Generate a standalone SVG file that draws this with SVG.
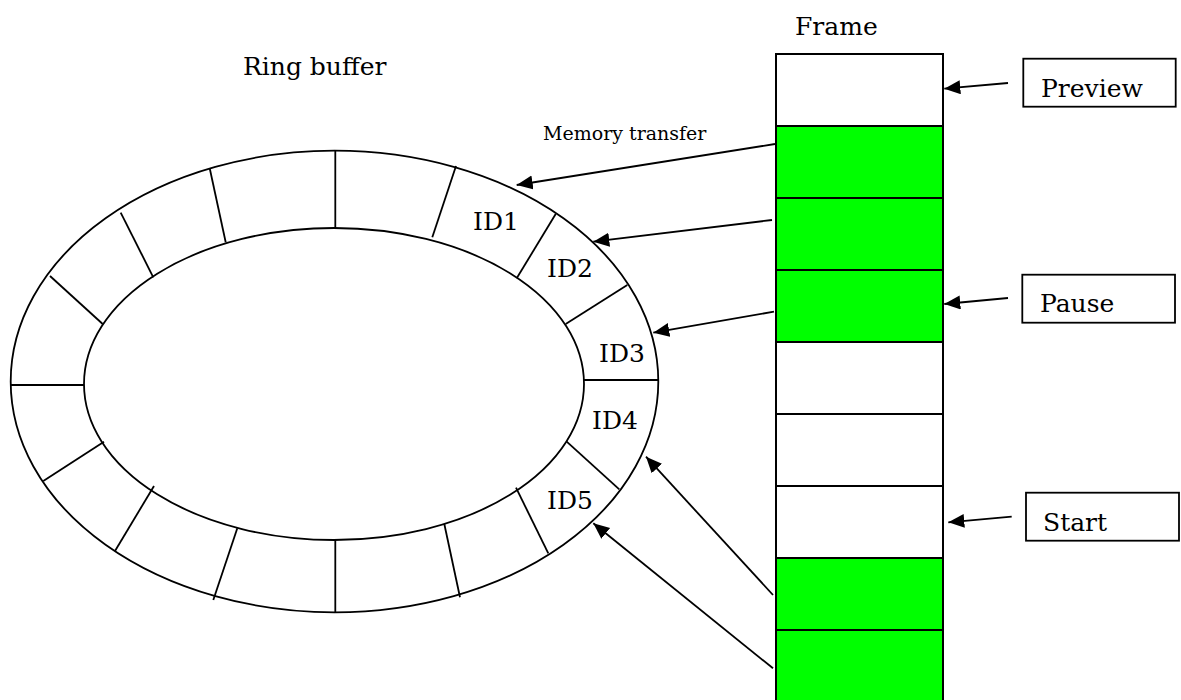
<svg xmlns="http://www.w3.org/2000/svg" width="1181" height="700" viewBox="0 0 1181 700">
  <style>
    .t { font-family: "DejaVu Serif", "Liberation Serif", serif; fill: #000; }
    .big { font-size: 25px; }
    .small { font-size: 19px; }
    .ring { fill: none; stroke: #000; stroke-width: 1.8; }
    .div { stroke: #000; stroke-width: 1.8; }
    .cell { stroke: #000; stroke-width: 2; }
    .g { fill: #00ff00; }
    .w { fill: #ffffff; }
    .box { fill: #fff; stroke: #000; stroke-width: 1.8; }
    .conn { stroke: #000; stroke-width: 1.8; fill: none; marker-end: url(#ah); }
  </style>
  <defs>
    <marker id="ah" markerUnits="userSpaceOnUse" markerWidth="18" markerHeight="16" refX="16" refY="7" orient="auto">
      <path d="M0,0 L16,7 L0,14 Z" fill="#000"/>
    </marker>
  </defs>
  <rect width="1181" height="700" fill="#fff"/>

  <g id="title-ring">
    <text class="t big" x="243" y="75">Ring buffer</text>
  </g>
  <g id="title-frame">
    <text class="t big" x="795" y="35">Frame</text>
  </g>

  <g id="ring-buffer">
    <ellipse class="ring" cx="334.5" cy="381.5" rx="323.8" ry="230.8"/>
    <ellipse class="ring" cx="334" cy="384" rx="250" ry="156"/>
    <line class="div" x1="335.3" y1="151" x2="335.3" y2="228.3"/>
    <line class="div" x1="209.7" y1="168.3" x2="225.7" y2="242.3"/>
    <line class="div" x1="120.7" y1="212.7" x2="153.3" y2="277.3"/>
    <line class="div" x1="50" y1="276" x2="102.7" y2="324"/>
    <line class="div" x1="11" y1="385" x2="84" y2="385"/>
    <line class="div" x1="456" y1="166" x2="432.3" y2="237.3"/>
    <line class="div" x1="555.7" y1="214" x2="516.7" y2="278.3"/>
    <line class="div" x1="627.3" y1="285" x2="565.7" y2="324"/>
    <line class="div" x1="584" y1="380" x2="658.3" y2="380"/>
    <line class="div" x1="43.3" y1="481" x2="104" y2="441.7"/>
    <line class="div" x1="115" y1="551" x2="154" y2="486"/>
    <line class="div" x1="213.3" y1="600" x2="237.3" y2="528.3"/>
    <line class="div" x1="335.3" y1="612.5" x2="335.3" y2="540"/>
    <line class="div" x1="460" y1="597.3" x2="444.3" y2="524"/>
    <line class="div" x1="548.3" y1="553.3" x2="516" y2="487.7"/>
    <line class="div" x1="619.3" y1="489.3" x2="566.7" y2="441.7"/>
    <text class="t big" x="473" y="230">ID1</text>
    <text class="t big" x="547" y="277">ID2</text>
    <text class="t big" x="599" y="362">ID3</text>
    <text class="t big" x="592" y="429">ID4</text>
    <text class="t big" x="547" y="509">ID5</text>
  </g>

  <g id="frame">
    <rect class="cell w" x="776" y="54" width="167" height="72"/>
    <rect class="cell g" x="776" y="126" width="167" height="72"/>
    <rect class="cell g" x="776" y="198" width="167" height="72"/>
    <rect class="cell g" x="776" y="270" width="167" height="72"/>
    <rect class="cell w" x="776" y="342" width="167" height="72"/>
    <rect class="cell w" x="776" y="414" width="167" height="72"/>
    <rect class="cell w" x="776" y="486" width="167" height="72"/>
    <rect class="cell g" x="776" y="558" width="167" height="72"/>
    <rect class="cell g" x="776" y="630" width="167" height="72"/>
  </g>

  <g id="preview">
    <rect class="box" x="1023.3" y="58.7" width="152.4" height="48"/>
    <text class="t big" x="1041" y="97">Preview</text>
  </g>
  <g id="pause">
    <rect class="box" x="1022.3" y="274.7" width="152.7" height="48"/>
    <text class="t big" x="1040" y="312">Pause</text>
  </g>
  <g id="start">
    <rect class="box" x="1026" y="492.7" width="153" height="48"/>
    <text class="t big" x="1043" y="531">Start</text>
  </g>

  <g id="memory-transfer-label">
    <text class="t small" x="543" y="140">Memory transfer</text>
  </g>

  <g id="connectors">
    <line class="conn" x1="775" y1="144" x2="516.7" y2="185"/>
    <line class="conn" x1="772" y1="220" x2="593.3" y2="241.7"/>
    <line class="conn" x1="774" y1="311.7" x2="653.3" y2="332.7"/>
    <line class="conn" x1="773" y1="595" x2="646" y2="456.7"/>
    <line class="conn" x1="773" y1="668.3" x2="593.3" y2="523.3"/>
    <line class="conn" x1="1008" y1="83" x2="944.3" y2="88.7"/>
    <line class="conn" x1="1008" y1="298" x2="944.3" y2="304"/>
    <line class="conn" x1="1011.7" y1="516.7" x2="948.3" y2="522.3"/>
  </g>
</svg>
